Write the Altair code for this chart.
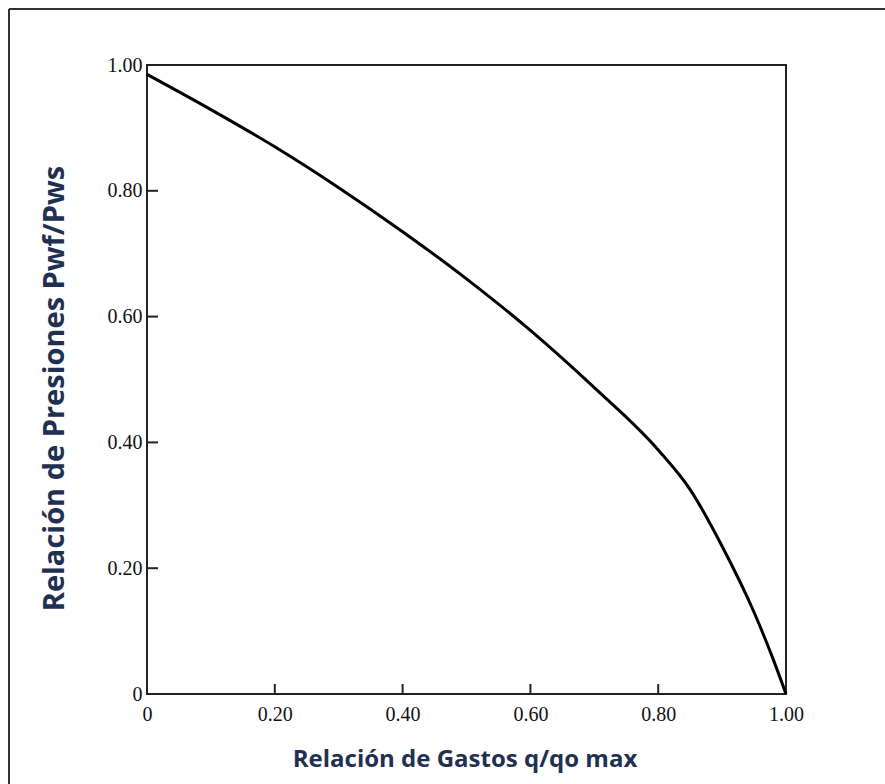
import altair as alt
import pandas as pd

# Curve (q/qo max vs Pwf/Pws)
q_ratio = [0.0, 0.1, 0.2, 0.3, 0.4, 0.5, 0.6, 0.7, 0.8, 0.85, 0.9, 0.95, 0.98, 1.0]
p_ratio = [0.985, 0.929, 0.870, 0.805, 0.735, 0.660, 0.578, 0.487, 0.388, 0.325,
           0.235, 0.130, 0.055, 0.0]

tick_values = [0.0, 0.2, 0.4, 0.6, 0.8, 1.0]
inner_ticks = [0.2, 0.4, 0.6, 0.8]

x_title = "Relación de Gastos q/qo max"
y_title = "Relación de Presiones Pwf/Pws"

W, H = 639, 629
TITLE_COLOR = "#1F3050"
label_expr = "datum.value == 0 ? '0' : format(datum.value, '.2f')"

df = pd.DataFrame({"q": q_ratio, "p": p_ratio})
ticks_df = pd.DataFrame({"v": inner_ticks})
one = pd.DataFrame({"a": [0]})

x_scale = alt.Scale(domain=[0, 1], nice=False, zero=False)
y_scale = alt.Scale(domain=[0, 1], nice=False, zero=False)

line = alt.Chart(df).mark_line(color="black", strokeWidth=3, interpolate="monotone").encode(
    x=alt.X("q:Q", scale=x_scale,
            axis=alt.Axis(values=tick_values, labelExpr=label_expr, title=x_title,
                          ticks=False, tickSize=0, domain=False, grid=False,
                          labelFont="Liberation Serif", labelFontSize=20, labelColor="#111",
                          labelPadding=10, labelFlush=False,
                          titleFont="Open Sans", titleFontSize=24, titleFontWeight="bold",
                          titleColor=TITLE_COLOR, titleBaseline="alphabetic",
                          titleY=72, titleX=W / 2 - 2, titleAlign="center")),
    y=alt.Y("p:Q", scale=y_scale,
            axis=alt.Axis(values=tick_values, labelExpr=label_expr, title=y_title,
                          ticks=False, tickSize=0, domain=False, grid=False,
                          labelFont="Liberation Serif", labelFontSize=20, labelColor="#111",
                          labelPadding=5, labelFlush=False,
                          titleFont="Open Sans", titleFontSize=29, titleFontWeight="bold",
                          titleColor=TITLE_COLOR, titleBaseline="alphabetic",
                          titleAngle=270, titleX=-84, titleY=323, titleAlign="center")),
)

# inward tick marks, as in the reference
y_ticks = alt.Chart(ticks_df).mark_rule(color="#222", strokeWidth=2).encode(
    y=alt.Y("v:Q", scale=y_scale), x=alt.value(0), x2=alt.value(11)
)
x_ticks = alt.Chart(ticks_df).mark_rule(color="#222", strokeWidth=2).encode(
    x=alt.X("v:Q", scale=x_scale), y=alt.value(H), y2=alt.value(H - 10)
)

# outer frame (only left and top edges fall inside the picture)
border_left = alt.Chart(one).mark_rule(color="#333", strokeWidth=2).encode(
    x=alt.value(-138), y=alt.value(-56), y2=alt.value(H + 100)
)
border_top = alt.Chart(one).mark_rule(color="#333", strokeWidth=2).encode(
    x=alt.value(-138), x2=alt.value(W + 110), y=alt.value(-56)
)

chart = alt.layer(line, y_ticks, x_ticks, border_left, border_top).properties(
    width=W, height=H,
    autosize=alt.AutoSizeParams(type="none"),
    padding={"left": 147, "top": 65, "right": 99, "bottom": 90},
    background="white",
).configure_view(stroke="#222", strokeWidth=2)

chart.save("out.html", embed_options={"renderer": "svg", "actions": False})
